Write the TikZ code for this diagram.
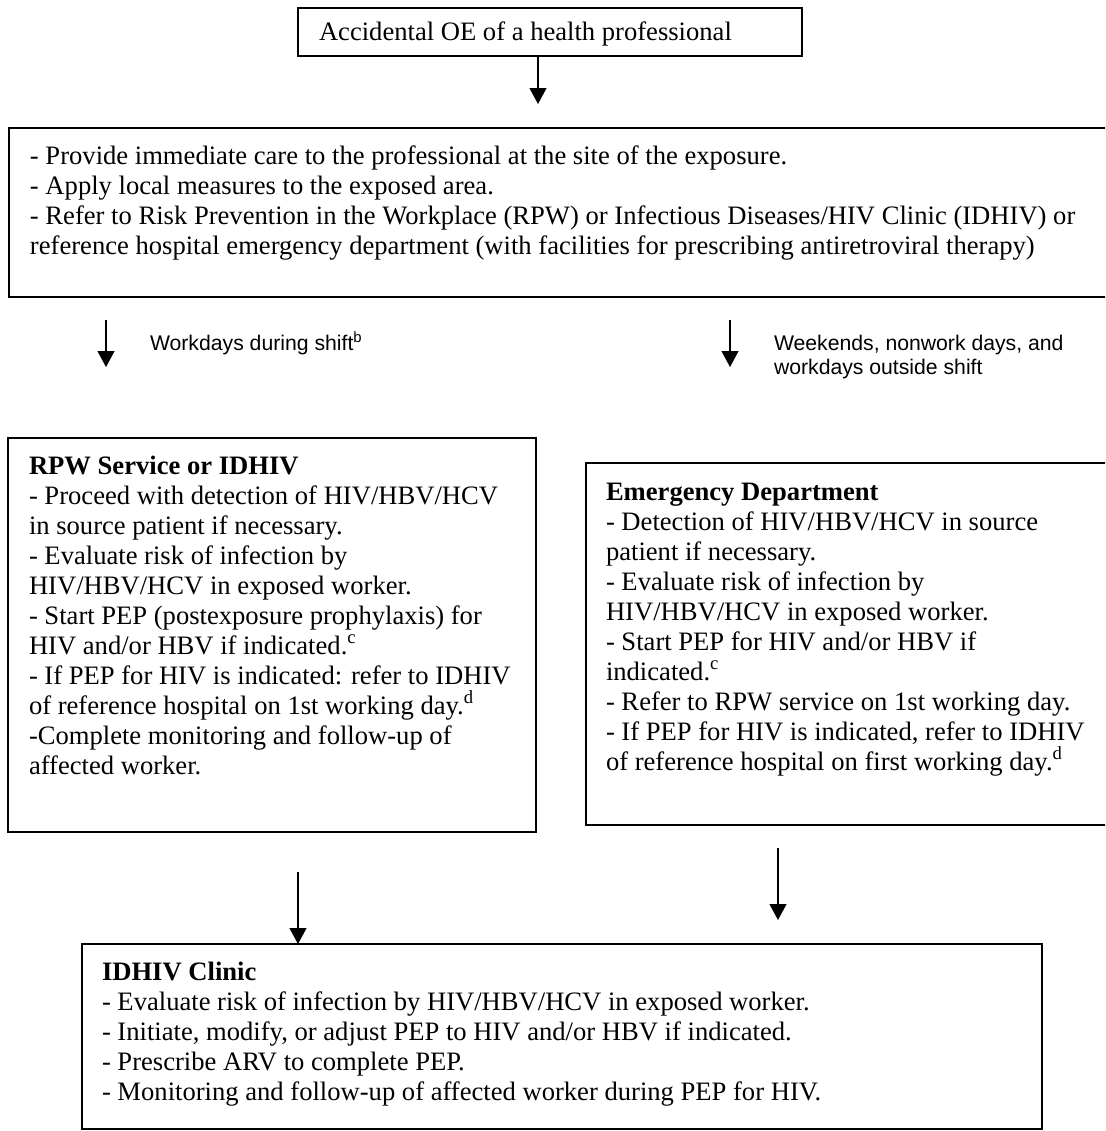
\documentclass[tikz,border=0pt]{standalone}
\usepackage{fontspec}
\setmainfont{Liberation Serif}
\newfontfamily\labelfont{Liberation Sans}
\usetikzlibrary{arrows.meta}
\tikzset{
  boxnode/.style={draw, line width=0.9pt, rectangle, inner sep=0pt, outer sep=0pt, anchor=north west},
  txt/.style={inner sep=0pt, outer sep=0pt, anchor=base west, align=left, font=\fontsize{13.3}{15}\selectfont},
  lbl/.style={inner sep=0pt, outer sep=0pt, anchor=base west, align=left, font=\labelfont\fontsize{10.6}{12}\selectfont},
  flow/.style={line width=0.6pt, -{Triangle[width=8.5pt,length=8pt]}}
}
\begin{document}
\begin{tikzpicture}[x=0.5pt, y=-0.5pt]
\useasboundingbox (0,0) rectangle (1105,1131);
\clip (0,0) rectangle (1105,1131);
% boxes
\node[boxnode, minimum width=252pt, minimum height=24pt] (top) at (298,8) {};
\node[boxnode, minimum width=550.5pt, minimum height=84.5pt] (care) at (9,128) {};
\node[boxnode, minimum width=264pt, minimum height=197pt] (rpw) at (8,438) {};
\node[boxnode, minimum width=262pt, minimum height=181pt] (emerg) at (586,463) {};
\node[boxnode, minimum width=480pt, minimum height=92.5pt] (idhiv) at (82,944) {};
% texts (anchor = baseline of the last line)
\node[txt] (toptxt) at (319,40) {Accidental OE of a health professional};
\node[txt] (caretxt) at (30,254) {- Provide immediate care to the professional at the site of the exposure.\\
- Apply local measures to the exposed area.\\
- Refer to Risk Prevention in the Workplace (RPW) or Infectious Diseases/HIV Clinic (IDHIV) or\\
reference hospital emergency department (with facilities for prescribing antiretroviral therapy)};
\node[txt] (rpwtxt) at (29,774) {\textbf{RPW Service or IDHIV}\\
- Proceed with detection of HIV/HBV/HCV\\
in source patient if necessary.\\
- Evaluate risk of infection by\\
HIV/HBV/HCV in exposed worker.\\
- Start PEP (postexposure prophylaxis) for\\
HIV and/or HBV if indicated.\textsuperscript{c}\\
- If PEP for HIV is indicated: refer to IDHIV\\
of reference hospital on 1st working day.\textsuperscript{d}\\
-Complete monitoring and follow-up of\\
affected worker.};
\node[txt] (emergtxt) at (606,770) {\textbf{Emergency Department}\\
- Detection of HIV/HBV/HCV in source\\
patient if necessary.\\
- Evaluate risk of infection by\\
HIV/HBV/HCV in exposed worker.\\
- Start PEP for HIV and/or HBV if\\
indicated.\textsuperscript{c}\\
- Refer to RPW service on 1st working day.\\
- If PEP for HIV is indicated, refer to IDHIV\\
of reference hospital on first working day.\textsuperscript{d}};
\node[txt] (idhivtxt) at (102,1100) {\textbf{IDHIV Clinic}\\
- Evaluate risk of infection by HIV/HBV/HCV in exposed worker.\\
- Initiate, modify, or adjust PEP to HIV and/or HBV if indicated.\\
- Prescribe ARV to complete PEP.\\
- Monitoring and follow-up of affected worker during PEP for HIV.};
% labels
\node[lbl] (l1) at (150,350) {Workdays during shift\textsuperscript{b}};
\node[lbl] (l2) at (774,374) {Weekends, nonwork days, and\\workdays outside shift};
% arrow end points
\coordinate (a1s) at (538,56);
\coordinate (a1e) at (538,104);
\coordinate (a2s) at (106,320);
\coordinate (a2e) at (106,367);
\coordinate (a3s) at (730,320);
\coordinate (a3e) at (730,367);
\coordinate (a4s) at (298,872);
\coordinate (a5s) at (778,848);
\coordinate (a5e) at (778,920);
\draw[flow] (a1s) -- (a1e);
\draw[flow] (a2s) -- (a2e);
\draw[flow] (a3s) -- (a3e);
\draw[flow] (a4s) -- (a4s |- idhiv.north);
\draw[flow] (a5s) -- (a5e);
\end{tikzpicture}
\end{document}
